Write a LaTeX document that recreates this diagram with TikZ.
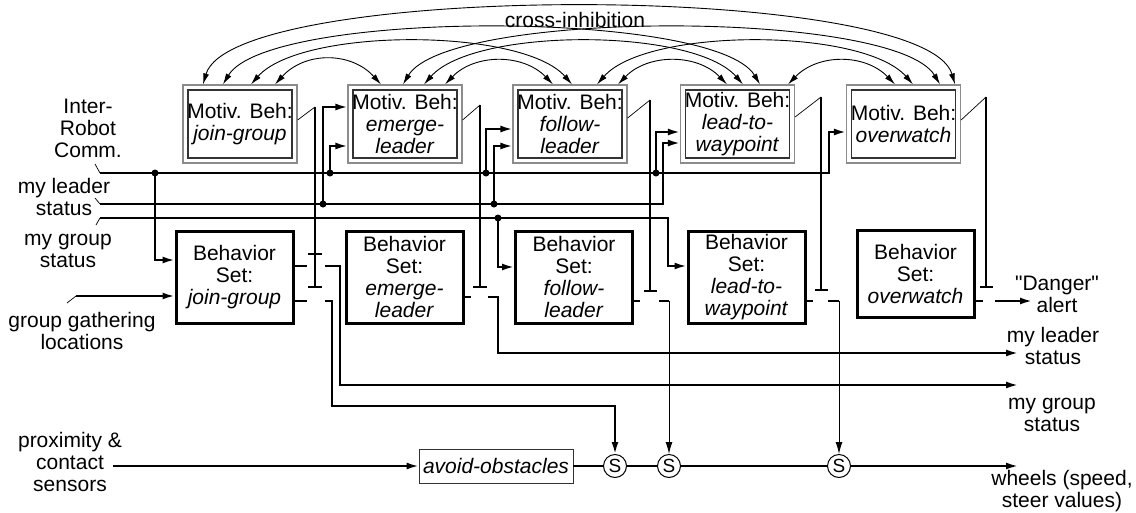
\documentclass[tikz,border=0pt]{standalone}
\usepackage{fontspec}
\setmainfont{Liberation Sans}
\newfontfamily\qfont{Liberation Sans}[Ligatures=TeXOff]
\usetikzlibrary{arrows.meta,calc}
\begin{document}
\begin{tikzpicture}[x=1pt,y=-1pt,
  every node/.style={font=\fontsize{21}{22}\selectfont, inner sep=0pt},
  mot/.style={draw=black!45, line width=1.2pt, minimum width=114pt, minimum height=78pt, align=center,
     path picture={\draw[black!80,line width=1.5pt] ([shift={(5,5)}]path picture bounding box.north west) rectangle ([shift={(-5,-5)}]path picture bounding box.south east);}},
  bset/.style={draw, line width=3pt, minimum width=117pt, minimum height=92pt, align=center},
  lbl/.style={align=center},
  ln/.style={line width=2pt},
  thinln/.style={line width=1pt},
  lead/.style={line width=0.7pt},
  arr/.style={-{Latex[length=12pt,width=7pt]}},
  xarc/.style={line width=0.9pt, {Latex[length=11pt,width=6pt]}-{Latex[length=11pt,width=6pt]}},
  jn/.style={circle, fill, inner sep=0pt, minimum size=7pt},
  sw/.style={circle, draw, line width=1pt, minimum size=23pt, font=\fontsize{19}{19}\selectfont},
]
\useasboundingbox (0,0) rectangle (1136,512);

% motivational behaviours
\node[mot] (m1) at (240,124) {Motiv. Beh:\\\textit{join-group}};
\node[mot] (m2) at (405,124) {Motiv. Beh:\\\textit{emerge-}\\\textit{leader}};
\node[mot] (m3) at (570,124) {Motiv. Beh:\\\textit{follow-}\\\textit{leader}};
\node[mot] (m4) at (737.5,124) {Motiv. Beh:\\\textit{lead-to-}\\\textit{waypoint}};
\node[mot] (m5) at (903.5,124) {Motiv. Beh:\\\textit{overwatch}};

% behaviour sets
\node[bset] (b1) at (234.5,277) {Behavior\\Set:\\\textit{join-group}};
\node[bset] (b2) at (404.5,277) {Behavior\\Set:\\\textit{emerge-}\\\textit{leader}};
\node[bset] (b3) at (574,277) {Behavior\\Set:\\\textit{follow-}\\\textit{leader}};
\node[bset] (b4) at (746.5,277) {Behavior\\Set:\\\textit{lead-to-}\\\textit{waypoint}};
\node[bset, minimum height=87pt] (b5) at (915.5,274) {Behavior\\Set:\\\textit{overwatch}};

% labels
\node[lbl] (irc) at (88,128) {Inter-\\Robot\\Comm.};
\node[lbl] (mls) at (64,197) {my leader\\status};
\node[lbl] (mgs) at (68,251) {my group\\status};
\node[lbl] (ggl) at (82,331) {group gathering\\locations};
\node[lbl] (pcs) at (70,462) {proximity \&\\contact\\sensors};
\node (ci) at (575,20) {cross-inhibition};
\node[lbl] (dal) at (1057,294) {{\qfont"Danger"}\\alert};
\node[lbl] (omls) at (1053,346) {my leader\\status};
\node[lbl] (omgs) at (1052,415) {my group\\status};
\node[lbl] (whl) at (1062,491) {wheels (speed,\\steer values)};

% bottom row
\node[draw, line width=0.8pt, draw=black!80, minimum width=154pt, minimum height=34pt] (ao) at (496,466) {\textit{avoid-obstacles}};
\node[sw] (s1) at (615,466) {S};
\node[sw] (s2) at (669,466) {S};
\node[sw] (s3) at (839,466) {S};

% coordinates
\coordinate (a0) at (100,173);
\coordinate (bb0) at (100,204);
\coordinate (c0) at (100,218);
\coordinate (g0) at (76,296);
\coordinate (p0) at (113,466);
\coordinate (oleader) at (1018,353);
\coordinate (ogroup) at (1018,385);
\coordinate (owheel) at (1018,466);
\coordinate (odanger) at (1032,301);

% label leaders
\draw[lead] (95,164) -- (a0);
\draw[lead] (95,198) -- (bb0);
\draw[lead] (96,225) -- (c0);
\draw[lead] (67,303) -- (g0);

% buses
\draw[ln,arr] (a0) -- (829,173) -- (829,132) -- (m5.west |- 0,132);
\draw[ln,arr] (bb0) -- (663,204) -- (663,143) -- (m4.west |- 0,143);
\draw[ln,arr] (c0) -- (668,218) -- (668,266) -- (b4.west |- 0,266);
\draw[ln,arr] (g0) -- (b1.west |- 0,296);

% junctions and branches
\node[jn] (j1) at (155,173) {};
\node[jn] (j2) at (323,204) {};
\node[jn] (j3) at (330,173) {};
\node[jn] (j4) at (486,173) {};
\node[jn] (j5) at (494,204) {};
\node[jn] (j6) at (498,218) {};
\node[jn] (j7) at (656,173) {};
\draw[ln,arr] (j1.center) |- (b1.west |- 0,260);
\draw[ln,arr] (j2.center) |- (m2.west |- 0,107);
\draw[ln,arr] (j3.center) |- (m2.west |- 0,146);
\draw[ln,arr] (j4.center) |- (m3.west |- 0,129);
\draw[ln,arr] (j5.center) |- (m3.west |- 0,146);
\draw[ln,arr] (j6.center) |- (b3.west |- 0,267);
\draw[ln,arr] (j7.center) |- (m4.west |- 0,132);

% suppression from motivational behaviours
\draw[lead] (m1.east |- 0,120) -- (315,107);
\draw[ln] (315,107) -- (315,287);
\draw[ln] (308,287) -- (322,287);
\draw[ln] (308,254) -- (322,254);
\draw[lead] (m2.east |- 0,120) -- (480,105);
\draw[ln] (480,105) -- (480,287);
\draw[ln] (473,287) -- (487,287);
\draw[lead] (m3.east |- 0,118) -- (650,100);
\draw[ln] (650,100) -- (650,291);
\draw[ln] (644,291) -- (657,291);
\draw[lead] (m4.east |- 0,117) -- (821,97);
\draw[ln] (821,97) -- (821,290);
\draw[ln] (815,290) -- (828,290);
\draw[lead] (m5.east |- 0,120) -- (986,97);
\draw[ln] (986,97) -- (986,287);
\draw[ln] (980,287) -- (993,287);

% behaviour outputs
\draw[ln] (b1.east |- 0,266) -- (307,266);
\draw[ln,arr] (325,266) -- (340,266) -- (340,385) -- (ogroup);
\draw[ln] (b1.east |- 0,301) -- (307,301);
\draw[ln,arr] (325,301) -- (332,301) -- (332,406) -- (s1.north |- 0,406) -- (s1.north);
\draw[ln] (b2.east |- 0,297) -- (471,297);
\draw[ln,arr] (488,297) -- (498,297) -- (498,353) -- (oleader);
\draw[ln] (b3.east |- 0,301) -- (640,301);
\draw[ln] (659,301) -- (669,301);
\draw[thinln,arr] (669,301) -- (s2.north);
\draw[ln] (b4.east |- 0,301) -- (813,301);
\draw[ln] (828,301) -- (839,301);
\draw[thinln,arr] (839,301) -- (s3.north);
\draw[ln] (b5.east |- 0,301) -- (983,301);
\draw[ln,arr] (995,301) -- (odanger);

% sensors and wheels
\draw[ln,arr] (p0) -- (ao.west);
\draw[ln] (ao) -- (s1) -- (s2) -- (s3);
\draw[ln,arr] (s3) -- (owheel);

% cross-inhibition arcs
\draw[xarc] ([xshift=35pt]m1.north) .. controls +(30,-33) and +(-30,-33) .. ([xshift=-24pt]m2.north);
\draw[xarc] ([xshift=40pt]m2.north) .. controls +(30,-31) and +(-30,-31) .. ([xshift=-17pt]m3.north);
\draw[xarc] ([xshift=48pt]m3.north) .. controls +(30,-31) and +(-30,-31) .. ([xshift=-10.5pt]m4.north);
\draw[xarc] ([xshift=50.5pt]m4.north) .. controls +(30,-31) and +(-30,-31) .. ([xshift=-8.5pt]m5.north);
\draw[xarc] ([xshift=11pt]m1.north) .. controls +(50,-57) and +(-50,-57) .. ([xshift=2pt]m3.north);
\draw[xarc] ([xshift=19pt]m2.north) .. controls +(50,-57) and +(-50,-57) .. ([xshift=5.5pt]m4.north);
\draw[xarc] ([xshift=27pt]m3.north) .. controls +(50,-57) and +(-50,-57) .. ([xshift=9.5pt]m5.north);
\draw[xarc] ([xshift=-17pt]m1.north) .. controls +(45,-75) and +(-45,-75) .. ([xshift=22.5pt]m4.north);
\draw[xarc] ([xshift=-2pt]m2.north) .. controls +(45,-75) and +(-45,-75) .. ([xshift=36.5pt]m5.north);
\draw[xarc] ([xshift=-37pt]m1.north) .. controls +(30,-103) and +(-30,-103) .. ([xshift=51.5pt]m5.north);
\end{tikzpicture}
\end{document}
